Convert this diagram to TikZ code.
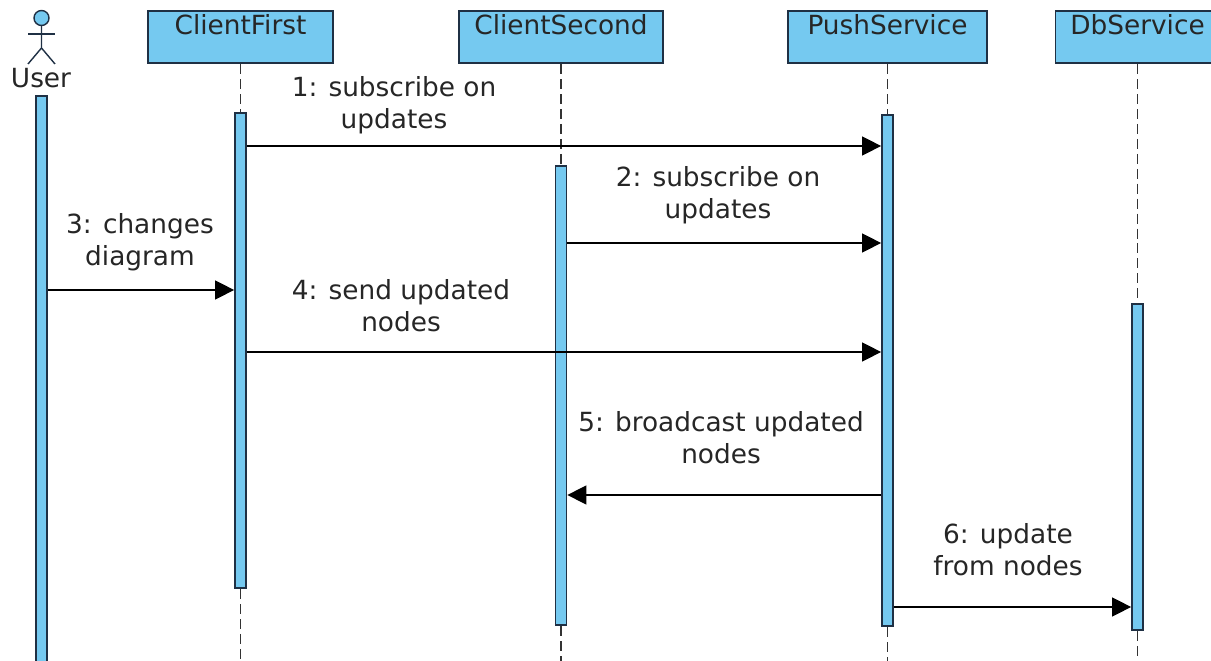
\documentclass[tikz,border=0pt]{standalone}
\usepackage{fontspec}
\setmainfont{DejaVu Sans}
\usetikzlibrary{arrows.meta}
\definecolor{barblue}{HTML}{75C9F0}
\definecolor{edgenavy}{HTML}{1F3044}
\begin{document}
\begin{tikzpicture}[
                    x=0.02cm, y=-0.02cm, % one unit is one pixel of the source, y runs down
                    every node/.style={font=\fontsize{15}{18.4}\selectfont, text=black!85},
                    headbox/.style={draw=edgenavy, fill=barblue, line width=1pt, anchor=north, inner sep=0pt,
                        minimum width=3.7cm, text height=0.46cm, text depth=0.58cm},
                    bar/.style={draw=edgenavy, fill=barblue, line width=1pt, inner sep=0pt, minimum width=0.22cm, anchor=north},
                    lifeline/.style={draw=black!80, line width=0.9pt, dash pattern=on 5.7pt off 2.8pt},
                    msg/.style={draw=black, line width=0.8pt, -{Triangle[length=0.38cm, width=0.38cm]}},
                    stick/.style={draw=edgenavy, line width=0.8pt}
                ]

                \useasboundingbox (0,0) rectangle (1211,661);
                \clip (0,0) rectangle (1211,661);

                % participants
                \node[headbox] (headFirst) at (240.5,10.5) {ClientFirst};
                \node[headbox, minimum width=4.08cm] (headSecond) at (561,10.5) {ClientSecond};
                \node[headbox, minimum width=3.98cm] (headPush) at (887.5,10.5) {PushService};
                \node[headbox, minimum width=3.28cm] (headDb) at (1137.5,10.5) {DbService};

                % actor
                \node[circle, draw=edgenavy, fill=barblue, line width=0.8pt, inner sep=0pt, minimum size=0.3cm] (userHead) at (41.5,18) {};
                \coordinate (userHip) at (41.5,48);
                \coordinate (userArmL) at (28,34);
                \coordinate (userArmR) at (55,34);
                \coordinate (userFootL) at (28,64);
                \coordinate (userFootR) at (55,64);
                \draw[stick] (userHead.south) -- (userHip) -- (userFootL) (userHip) -- (userFootR);
                \draw[stick] (userArmL) -- (userArmR);
                \node (userName) at (41,78) {User};

                % activation bars
                \node[bar, minimum height=11.4cm] (barUser) at (41.5,95.5) {};
                \node[bar, minimum height=9.5cm] (barFirst) at (240.5,112.5) {};
                \node[bar, minimum height=9.18cm] (barSecond) at (561,165.5) {};
                \node[bar, minimum height=10.22cm] (barPush) at (887.5,114.5) {};
                \node[bar, minimum height=6.52cm] (barDb) at (1137.5,303.5) {};

                % lifelines
                \coordinate (endFirst) at (240.5,661);
                \coordinate (endSecond) at (561,661);
                \coordinate (endPush) at (887.5,661);
                \coordinate (endDb) at (1137.5,661);
                \draw[lifeline] (headFirst.south) -- (barFirst.north) (barFirst.south) -- (endFirst);
                \draw[lifeline] (headSecond.south) -- (barSecond.north) (barSecond.south) -- (endSecond);
                \draw[lifeline] (headPush.south) -- (barPush.north) (barPush.south) -- (endPush);
                \draw[lifeline] (headDb.south) -- (barDb.north) (barDb.south) -- (endDb);

                % message heights
                \coordinate (rowA) at (0,146);
                \coordinate (rowB) at (0,243);
                \coordinate (rowC) at (0,290);
                \coordinate (rowD) at (0,352);
                \coordinate (rowE) at (0,495);
                \coordinate (rowF) at (0,607);

                \draw[msg] (barFirst.east |- rowA) -- (barPush.west |- rowA);
                \draw[msg] (barSecond.east |- rowB) -- (barPush.west |- rowB);
                \draw[msg] (barUser.east |- rowC) -- (barFirst.west |- rowC);
                \draw[msg] (barFirst.east |- rowD) -- (barPush.west |- rowD);
                \draw[msg] (barPush.west |- rowE) -- (barSecond.east |- rowE);
                \draw[msg] (barPush.east |- rowF) -- (barDb.west |- rowF);

                \node[align=center] (textA) at (394,105) {1: subscribe on\\updates};
                \node[align=center] (textB) at (718,195) {2: subscribe on\\updates};
                \node[align=center] (textC) at (140,242) {3: changes\\diagram};
                \node[align=center] (textD) at (401,306) {4: send updated\\nodes};
                \node[align=center] (textE) at (721,438) {5: broadcast updated\\nodes};
                \node[align=center] (textF) at (1008,550) {6: update\\from nodes};
            \end{tikzpicture}
\end{document}
